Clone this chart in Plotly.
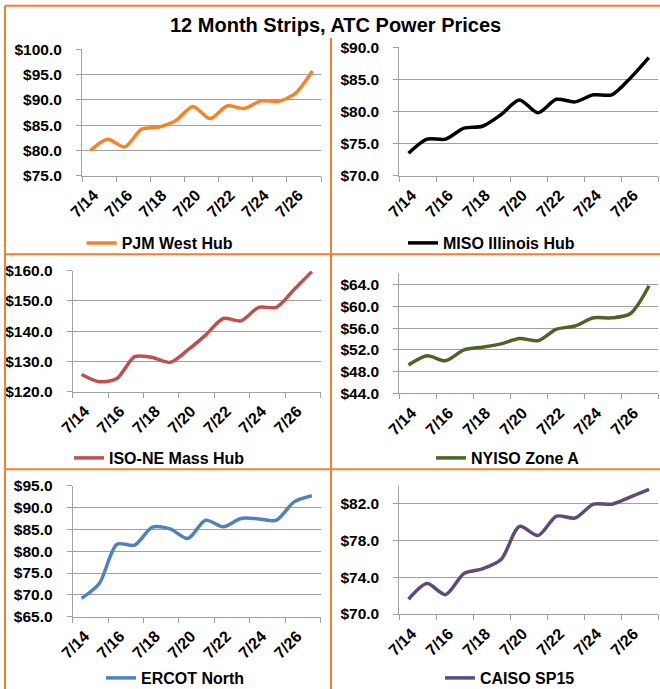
import plotly.graph_objects as go

dates = ["7/14", "7/15", "7/16", "7/17", "7/18", "7/19", "7/20",
         "7/21", "7/22", "7/23", "7/24", "7/25", "7/26", "7/27"]
pjm = [80.0, 82.2, 80.7, 84.2, 84.6, 85.9, 88.7, 86.3, 88.8, 88.3, 89.8, 89.7, 91.3, 95.7]
miso = [73.5, 75.7, 75.7, 77.4, 77.7, 79.5, 81.8, 79.8, 81.9, 81.5, 82.6, 82.6, 85.2, 88.4]
isone = [125.7, 123.3, 124.4, 131.6, 131.3, 129.7, 133.8, 138.7, 144.2, 143.4, 147.9, 147.9, 153.8, 159.7]
nyiso = [49.2, 50.9, 50.0, 52.0, 52.5, 53.1, 54.1, 53.7, 55.8, 56.4, 57.9, 57.9, 58.7, 63.8]
ercot = [69.2, 72.6, 81.6, 81.4, 85.5, 85.1, 82.9, 87.1, 85.6, 87.5, 87.4, 87.1, 91.3, 92.7]
caiso = [71.6, 73.3, 72.1, 74.4, 74.9, 75.9, 79.5, 78.5, 80.6, 80.4, 81.9, 81.9, 82.7, 83.5]

names = ["PJM West Hub", "MISO Illinois Hub", "ISO-NE Mass Hub",
         "NYISO Zone A", "ERCOT North", "CAISO SP15"]
colors = ["#F5832B", "#000000", "#C0504D", "#4F6228", "#4F81BD", "#604A7B"]
series = [pjm, miso, isone, nyiso, ercot, caiso]
title = "12 Month Strips, ATC Power Prices"
yranges = [(75, 100), (70, 90), (120, 160), (44, 66.1), (65, 95), (70, 83.9)]
yticks = [[75, 80, 85, 90, 95, 100], [70, 75, 80, 85, 90], [120, 130, 140, 150, 160],
          [44, 48, 52, 56, 60, 64], [65, 70, 75, 80, 85, 90, 95], [70, 74, 78, 82]]

W, H = 660, 689
# plot areas in pixels: (x0, x1, ytop, ybottom)
areas = [(82, 321, 49.3, 175.7), (399.3, 658, 47.3, 175.7),
         (72.7, 320.7, 270.7, 391.7), (399.3, 658.3, 273.3, 393.3),
         (72.7, 320.7, 485.7, 616.7), (399.3, 658.3, 485.7, 614)]
# legend: (text start x px, center y px)
legpos = [(121.7, 243), (443, 243), (109, 458), (471, 458), (141, 678), (480, 678)]

FONT = "Liberation Sans, Arial, sans-serif"
GRID = "#A0A0A0"

fig = go.Figure()
xidx = list(range(len(dates)))
layout = dict(width=W, height=H, margin=dict(l=0, r=0, t=0, b=0, autoexpand=False),
              paper_bgcolor="white", plot_bgcolor="white",
              font=dict(family=FONT, color="black"))

for i in range(6):
    n = "" if i == 0 else str(i + 1)
    x0, x1, yt, yb = areas[i]
    fig.add_trace(go.Scatter(
        x=xidx, y=series[i], mode="lines", name=names[i],
        line=dict(color=colors[i], width=3.5, shape="spline", smoothing=0.8),
        xaxis="x" + n, yaxis="y" + n, legend="legend" + n, showlegend=True))
    layout["xaxis" + n] = dict(
        domain=[x0 / W, x1 / W], anchor="y" + n, range=[-0.5, 13.5], automargin=False,
        tickmode="array", tickvals=xidx[::2], ticktext=dates[::2],
        tickangle=-45, ticks="", showgrid=False, zeroline=False,
        ticklabelstandoff=3, ticklabelshift=3,
        showline=True, linecolor=GRID, linewidth=1,
        tickfont=dict(family=FONT, size=16, weight="bold", color="black"),
        minor=dict(tickmode="array", tickvals=[-0.5 + 2 * k for k in range(8)],
                   ticks="outside", ticklen=5, tickcolor=GRID, tickwidth=1, showgrid=False))
    layout["yaxis" + n] = dict(
        domain=[1 - yb / H, 1 - yt / H], anchor="x" + n, range=list(yranges[i]),
        automargin=False, tickmode="array", tickvals=yticks[i],
        ticktext=["$%.1f" % v for v in yticks[i]], ticklabelstandoff=11,
        ticks="outside", ticklen=5, tickcolor=GRID, showgrid=True, gridcolor=GRID,
        gridwidth=1, zeroline=False, showline=True, linecolor=GRID, linewidth=1,
        tickfont=dict(family=FONT, size=15.5, weight="bold", color="black"))
    tx, ty = legpos[i]
    layout["legend" + n] = dict(
        xref="container", yref="container",
        x=(tx - 40) / W, y=1 - ty / H, xanchor="left", yanchor="middle",
        bgcolor="rgba(0,0,0,0)", borderwidth=0,
        font=dict(family=FONT, size=16, weight="bold", color="black"))

OR = "#F47F2E"
shapes = [
    dict(type="line", xref="paper", yref="paper", x0=5 / W, x1=1, y0=1 - 5.7 / H, y1=1 - 5.7 / H),
    dict(type="line", xref="paper", yref="paper", x0=5 / W, x1=5 / W, y0=0, y1=1 - 5.7 / H),
    dict(type="line", xref="paper", yref="paper", x0=331 / W, x1=331 / W, y0=0, y1=1 - 38 / H),
    dict(type="line", xref="paper", yref="paper", x0=5 / W, x1=1, y0=1 - 254.3 / H, y1=1 - 254.3 / H),
    dict(type="line", xref="paper", yref="paper", x0=5 / W, x1=1, y0=1 - 469.3 / H, y1=1 - 469.3 / H),
]
for s in shapes:
    s["line"] = dict(color=OR, width=2)
layout["shapes"] = shapes
layout["annotations"] = [dict(
    text=title, xref="paper", yref="paper", x=335.5 / W, y=1 - 25 / H,
    xanchor="center", yanchor="middle", showarrow=False,
    font=dict(family=FONT, size=20, weight="bold", color="black"))]

fig.update_layout(**layout)
fig.write_html("out.html", config={"displayModeBar": False},
               post_script="document.body.style.margin='0px';document.body.style.overflow='hidden';")
